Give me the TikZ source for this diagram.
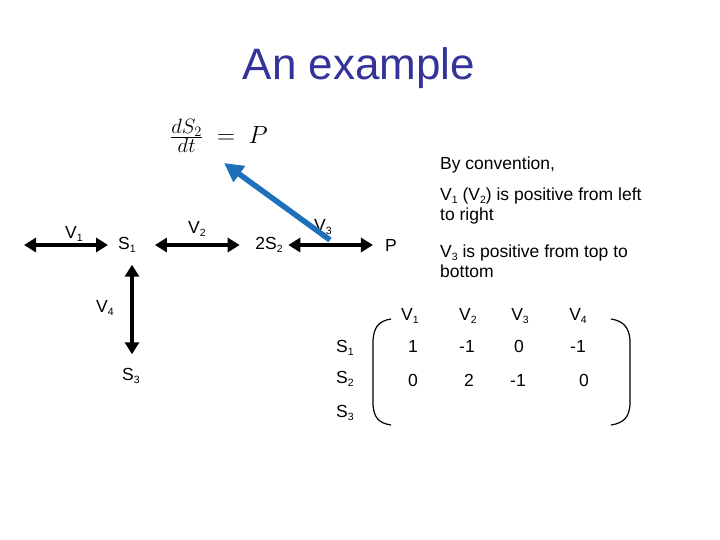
\documentclass[tikz,border=0pt]{standalone}
\usepackage{fontspec}
\setmainfont{Liberation Sans}
\usetikzlibrary{arrows.meta}
\definecolor{titleblue}{HTML}{333399}
\definecolor{arrowblue}{HTML}{1F70BA}
\newcommand\sbs[1]{\raisebox{-0.3ex}{\fontsize{10.5}{12}\selectfont #1}}
\begin{document}
\begin{tikzpicture}[x=1pt,y=-1pt,
  lbl/.style={inner sep=0pt,font=\fontsize{17.5}{21}\selectfont},
  rxn/.style={line width=4.8pt,{Triangle[length=12pt,width=14pt]}-{Triangle[length=12pt,width=14pt]}},
  note/.style={inner sep=0pt,anchor=west,align=left,font=\fontsize{17.5}{19.5}\selectfont},
  paren/.style={line width=1.2pt}]
\useasboundingbox (0,0) rectangle (720,540);
\node[inner sep=0pt,text=titleblue,font=\fontsize{44}{50}\selectfont] (title) at (359,68) {An example};
\node[inner sep=0pt,font=\fontsize{28.5}{32}\selectfont] (eq) at (219,136)
  {$\frac{dS_2}{dt}\;=\;P$};
% network
\node[lbl] (s1) at (127,245) {S\sbs{1}};
\node[lbl] (s2) at (269,245) {2S\sbs{2}};
\node[lbl] (p) at (391,245) {P};
\node[lbl] (s3) at (131,376) {S\sbs{3}};
\node[lbl] (v1l) at (74,234) {V\sbs{1}};
\node[lbl] (v2l) at (197,229) {V\sbs{2}};
\node[lbl] (v3l) at (323,227) {V\sbs{3}};
\node[lbl] (v4l) at (105,308) {V\sbs{4}};
\coordinate (a1) at (24,245);
\draw[rxn] (a1) -- ([xshift=-10pt]s1.west);
\draw[rxn,shorten <=19pt,shorten >=15.5pt] (s1.east) -- (s2.west);
\draw[rxn,shorten <=5.5pt,shorten >=12pt] (s2.east) -- (p.west);
\draw[rxn] ([xshift=5pt,yshift=-12pt]s1.south) -- ([xshift=1pt,yshift=14pt]s3.north);
\coordinate (btail) at (330,240);
\coordinate (bhead) at (224,163);
\draw[arrowblue,line width=5.5pt,-{Triangle[length=19pt,width=19pt]}] (btail) -- (bhead);
% notes
\node[note] (conv) at (440,165) {By convention,};
\node[note] (n1) at (440,206) {V\sbs{1} (V\sbs{2}) is positive from left\\to right};
\node[note] (n2) at (440,261) {V\sbs{3} is positive from top to\\bottom};
% matrix
\node[lbl] (r1) at (345,348) {S\sbs{1}};
\node[lbl] (r2) at (345,379) {S\sbs{2}};
\node[lbl] (r3) at (345,413) {S\sbs{3}};
\node[lbl] (c1) at (410,316) {V\sbs{1}};
\node[lbl] (c2) at (468,316) {V\sbs{2}};
\node[lbl] (c3) at (520,316) {V\sbs{3}};
\node[lbl] (c4) at (578,316) {V\sbs{4}};
\node[lbl] (m11) at (413,346) {1};
\node[lbl] (m12) at (467,346) {-1};
\node[lbl] (m13) at (519,346) {0};
\node[lbl] (m14) at (578,346) {-1};
\node[lbl] (m21) at (413,380) {0};
\node[lbl] (m22) at (469,380) {2};
\node[lbl] (m23) at (518,380) {-1};
\node[lbl] (m24) at (584,380) {0};
\draw[paren] (391,319) .. controls (378,321) and (374,328) .. (373,340) -- (373,405) .. controls (374,417) and (378,423) .. (391,425);
\draw[paren] (611,319) .. controls (624,321) and (629,328) .. (630,340) -- (630,405) .. controls (629,417) and (624,423) .. (611,425);
\end{tikzpicture}
\end{document}
